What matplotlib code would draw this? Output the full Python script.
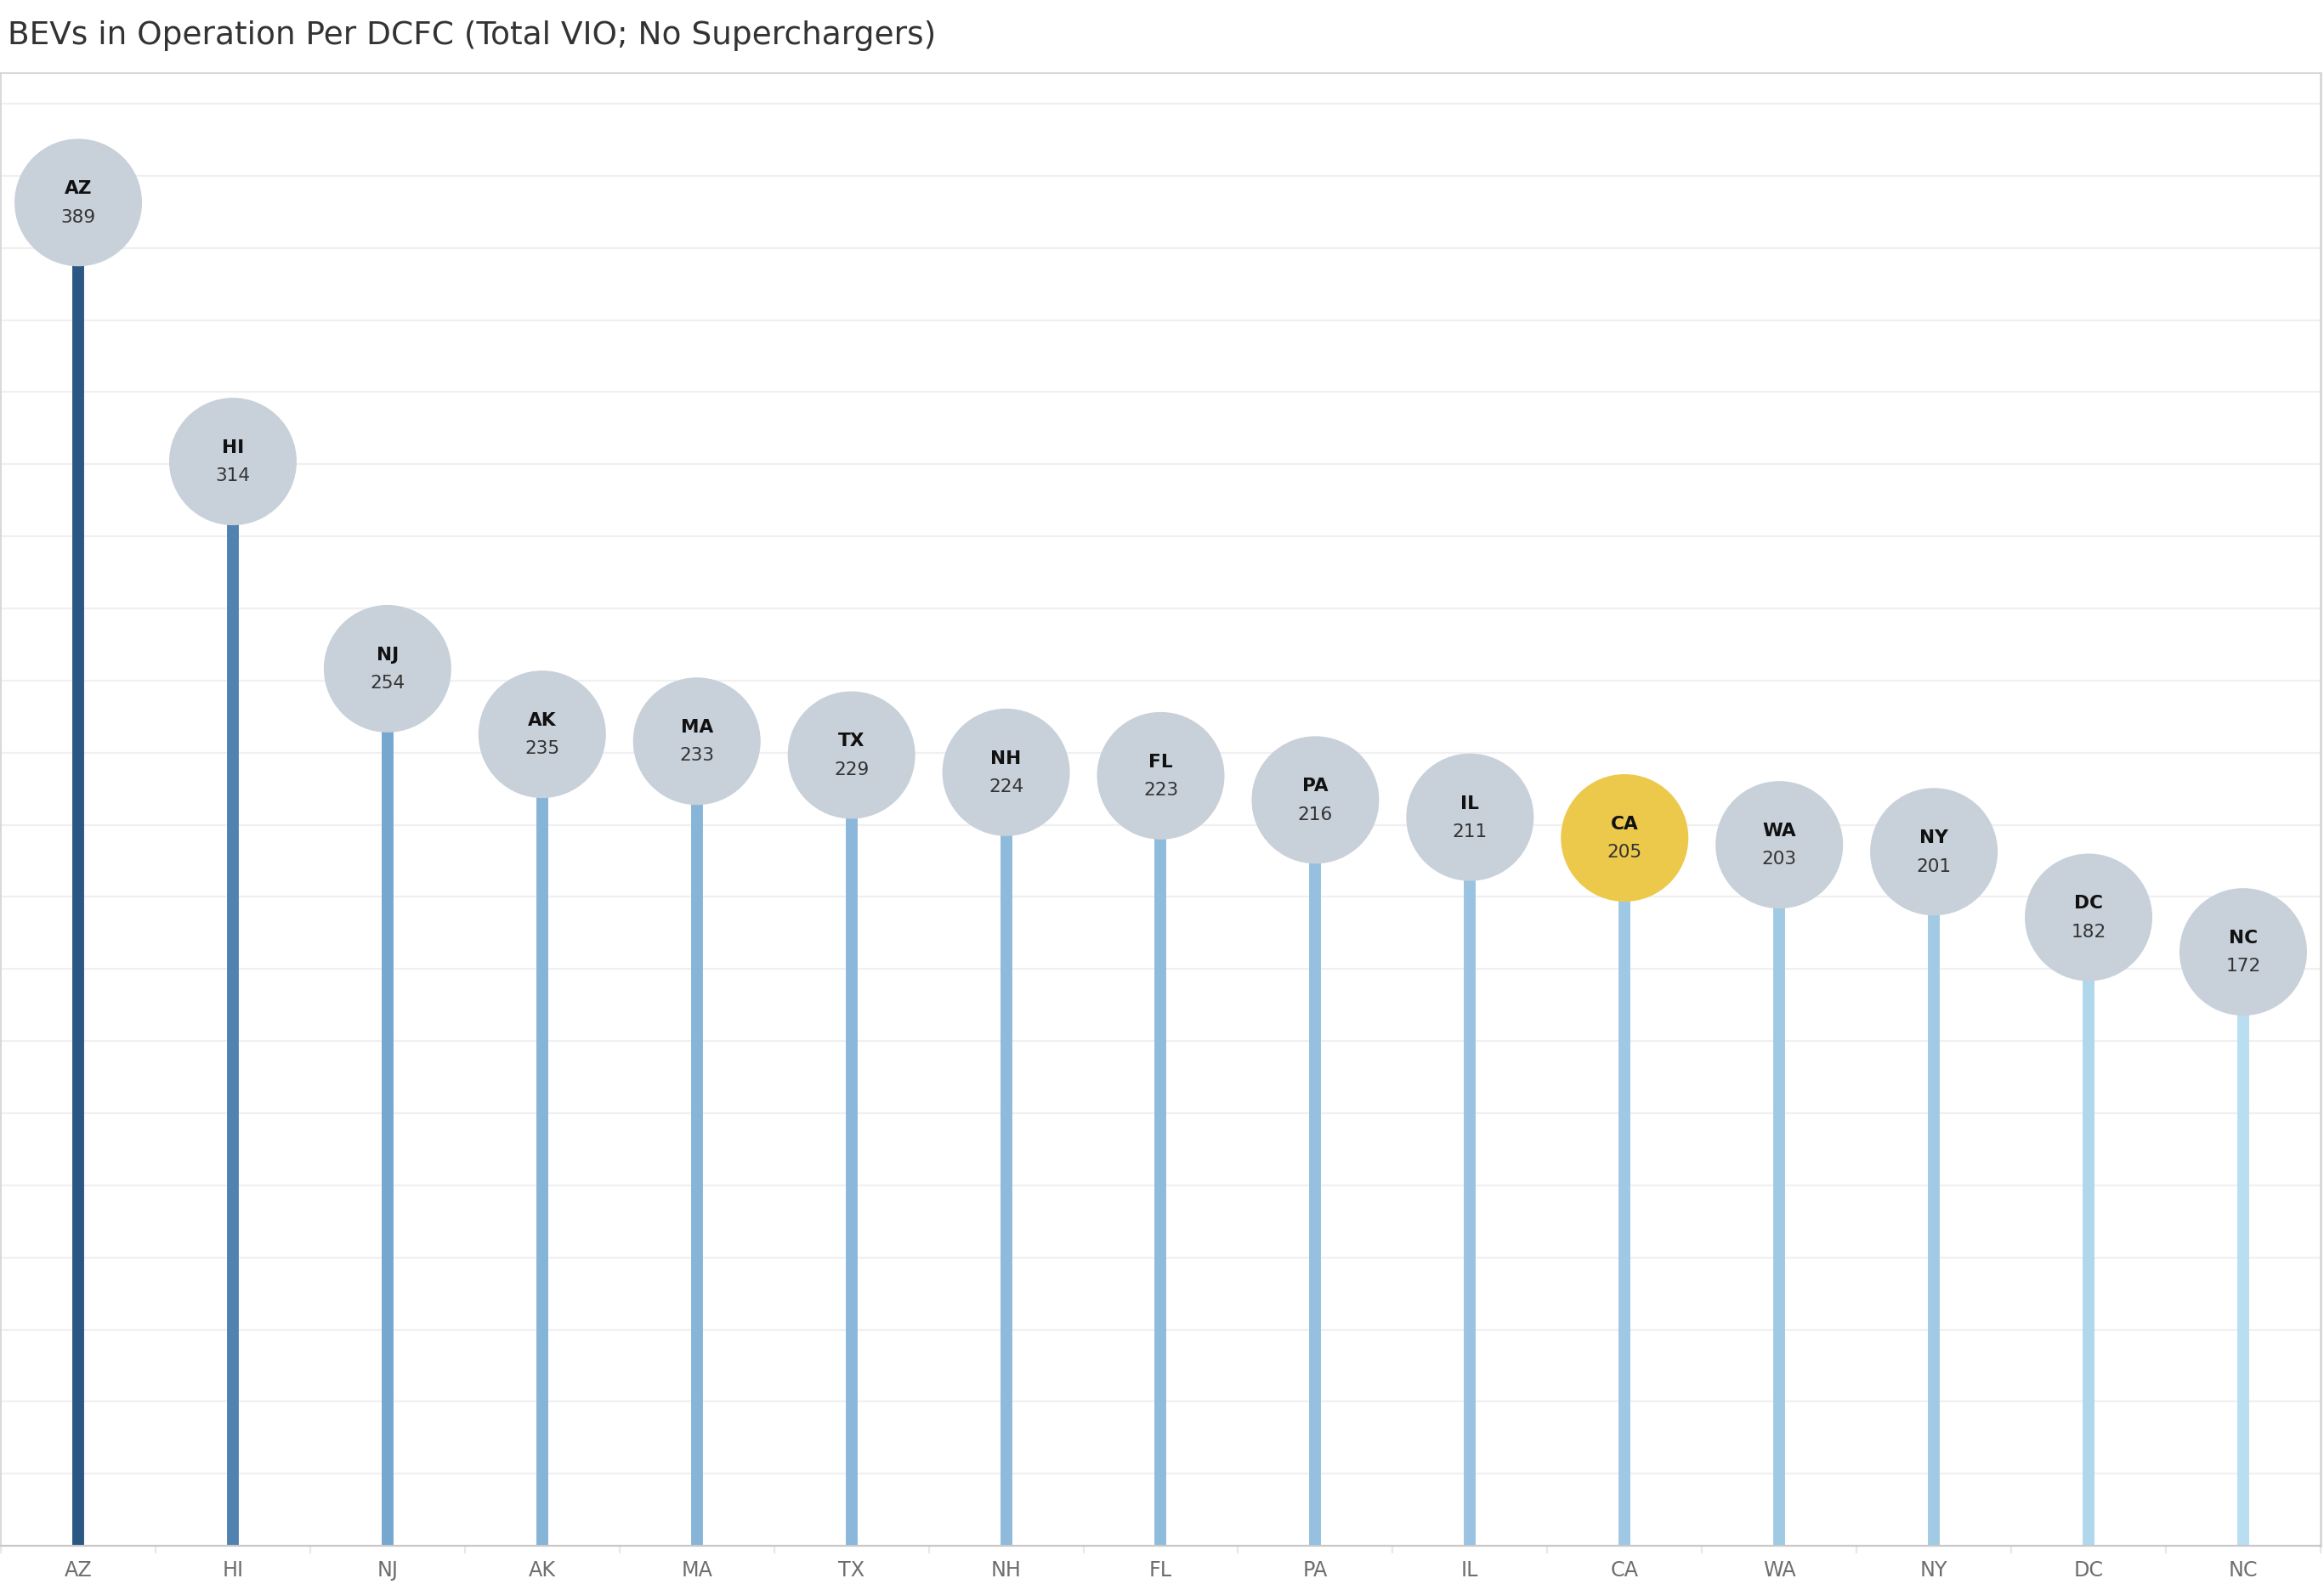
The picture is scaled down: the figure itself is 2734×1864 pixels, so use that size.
import numpy as np
import matplotlib
matplotlib.use("Agg")
import matplotlib.pyplot as plt
from matplotlib.colors import LinearSegmentedColormap
from matplotlib.ticker import MultipleLocator

# data
states = ['AZ', 'HI', 'NJ', 'AK', 'MA', 'TX', 'NH', 'FL', 'PA', 'IL',
          'CA', 'WA', 'NY', 'DC', 'NC']
bevs_per_dcfc = [389, 314, 254, 235, 233, 229, 224, 223, 216, 211,
                 205, 203, 201, 182, 172]
highlight = 'CA'
title = 'BEVs in Operation Per DCFC (Total VIO; No Superchargers)'

narrow = ['Liberation Sans Narrow', 'DejaVu Sans']

# sequential blue, light -> dark by value
blues = LinearSegmentedColormap.from_list(
    'tab_blue', [(0.0, '#b9ddf1'), (0.35, '#7aabd2'), (0.65, '#5283b2'), (1.0, '#2a5783')])

vals = np.array(bevs_per_dcfc, dtype=float)
xs = np.arange(len(states))
t = (vals - vals.min()) / (vals.max() - vals.min())
stem_colors = [blues(v) for v in t]

fig = plt.figure(figsize=(13.67, 9.32), dpi=200)
ax = fig.add_axes([0.0004, 0.0241, 0.9981, 0.9298])

# stems
ax.vlines(xs, 0, vals, colors=stem_colors, linewidth=5.0, zorder=2)

# circles
circ_colors = ['#ecc94b' if s == highlight else '#c8d0da' for s in states]
ax.scatter(xs, vals, s=54 ** 2, c=circ_colors, edgecolors='none', zorder=3)

for x, v, s in zip(xs, vals, states):
    ax.annotate(s, (x, v), xytext=(0, 5.8), textcoords='offset points',
                ha='center', va='center', fontsize=7.8, fontweight='bold',
                color='#111111', zorder=4)
    ax.annotate(f'{int(v)}', (x, v), xytext=(0, -6.2), textcoords='offset points',
                ha='center', va='center', fontsize=7.8, color='#333333', zorder=4)

ax.set_xlim(-0.5, len(states) - 0.5)
ax.set_ylim(0, 426.5)

# grid
ax.yaxis.set_major_locator(MultipleLocator(20.88))
ax.grid(axis='y', color='#f0f0f0', linewidth=0.8, zorder=0)
ax.set_axisbelow(True)
ax.tick_params(axis='y', left=False, labelleft=False)

# x axis
ax.set_xticks(xs)
ax.set_xticklabels(states, family=narrow, fontsize=8.6, color='#6e6e6e')
ax.set_xticks(np.arange(-0.5, len(states), 1.0), minor=True)
ax.tick_params(axis='x', which='major', length=0, pad=6)
ax.tick_params(axis='x', which='minor', length=3.2, width=0.8, color='#e8e8e8', direction='out')

for side in ['left', 'top', 'right']:
    ax.spines[side].set_color('#d2d2d2')
    ax.spines[side].set_linewidth(0.6)
ax.spines['right'].set_linewidth(0.9)
ax.spines['bottom'].set_color('#c8c8c8')
ax.spines['bottom'].set_linewidth(0.8)

fig.text(0.0033, 0.9775, title, family=narrow, fontsize=13.5, color='#333333',
         ha='left', va='center')

fig.savefig('out.png', dpi=200)
